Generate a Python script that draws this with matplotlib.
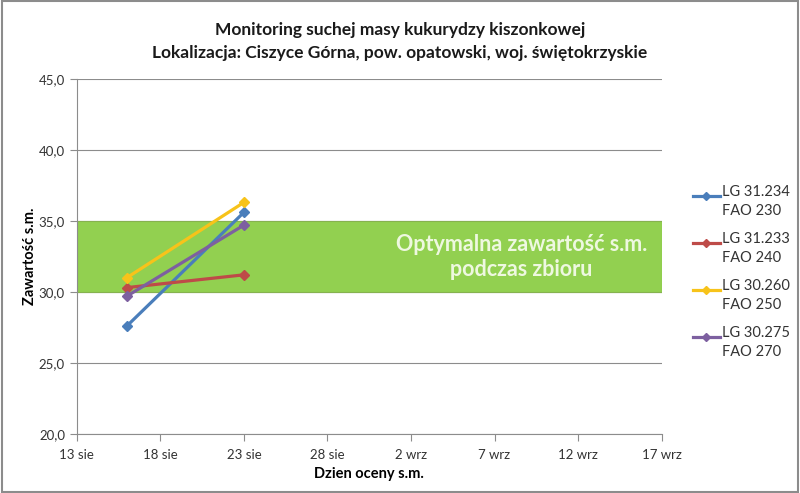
import datetime as dt
import matplotlib
matplotlib.use('Agg')
import matplotlib.pyplot as plt
import matplotlib.dates as mdates
from matplotlib.lines import Line2D
from matplotlib.patches import Rectangle

plt.rcParams['font.family'] = ['Lato', 'DejaVu Sans']

# dates of measurement and dry matter content (%)
dates = [dt.date(2014, 8, 16), dt.date(2014, 8, 23)]
lg31234 = [27.6, 35.6]
lg31233 = [30.3, 31.2]
lg30260 = [31.0, 36.3]
lg30275 = [29.7, 34.7]

series_labels = ['LG 31.234\nFAO 230', 'LG 31.233\nFAO 240', 'LG 30.260\nFAO 250', 'LG 30.275\nFAO 270']
colors = ['#4A7EBB', '#BE4B48', '#F7C31A', '#7D60A0']

x_ticks = [dt.date(2014, 8, 13), dt.date(2014, 8, 18), dt.date(2014, 8, 23), dt.date(2014, 8, 28),
           dt.date(2014, 9, 2), dt.date(2014, 9, 7), dt.date(2014, 9, 12), dt.date(2014, 9, 17)]
x_tick_labels = ['13 sie', '18 sie', '23 sie', '28 sie', '2 wrz', '7 wrz', '12 wrz', '17 wrz']
y_ticks = [20, 25, 30, 35, 40, 45]
y_tick_labels = ['20,0', '25,0', '30,0', '35,0', '40,0', '45,0']
optimum = (30, 35)

fig = plt.figure(figsize=(8, 4.93), dpi=100)
ax = fig.add_axes([0.096, 0.12, 0.731, 0.72])

ax.axhspan(optimum[0], optimum[1], facecolor='#92D050', edgecolor='#86B24F', lw=0.8, zorder=1)
ax.text(mdates.date2num(dt.date(2014, 9, 8)) + 0.6, 32.45, 'Optymalna zawartość s.m.\npodczas zbioru',
        color='#EEF8E0', fontsize=15.5, fontweight='bold', ha='center', va='center',
        linespacing=1.2, zorder=2)

for vals, lab, c in zip([lg31234, lg31233, lg30260, lg30275], series_labels, colors):
    ax.plot(dates, vals, color=c, lw=2.3, marker='D', ms=5, label=lab, zorder=3)

ax.set_xlim(mdates.date2num(x_ticks[0]), mdates.date2num(x_ticks[-1]))
ax.set_ylim(20, 45)
ax.set_xticks([mdates.date2num(d) for d in x_ticks])
ax.set_xticklabels(x_tick_labels)
ax.set_yticks(y_ticks)
ax.set_yticklabels(y_tick_labels)
ax.grid(axis='y', color='#8C8C8C', lw=0.8, zorder=0)
ax.set_axisbelow(True)
for s in ['top', 'right']:
    ax.spines[s].set_visible(False)
for s in ['left', 'bottom']:
    ax.spines[s].set_color('#8C8C8C')
ax.tick_params(direction='out', length=5, color='#8C8C8C', labelsize=9.5, labelcolor='#333333')
ax.tick_params(axis='x', pad=6)

ax.set_xlabel('Dzien oceny s.m.', fontsize=10.5, fontweight='bold', labelpad=4)
ax.set_ylabel('Zawartość s.m.', fontsize=10.5, fontweight='bold')
ax.yaxis.set_label_coords(-0.068, 0.5)

fig.text(0.5, 0.916, 'Monitoring suchej masy kukurydzy kiszonkowej\nLokalizacja: Ciszyce Górna, pow. opatowski, woj. świętokrzyskie',
         ha='center', va='center', fontsize=12.5, fontweight='bold', linespacing=1.5, color='#1A1A1A')

# legend drawn by hand: marker line next to the first text line, as in Excel
for i, (lab, c) in enumerate(zip(series_labels, colors)):
    y0 = 1 - (196 + 47 * i) / 493
    fig.add_artist(Line2D([0.866, 0.9], [y0, y0], color=c, lw=2.3, transform=fig.transFigure))
    fig.add_artist(Line2D([0.883], [y0], color=c, marker='D', ms=4.5, transform=fig.transFigure))
    fig.text(0.903, y0 + 0.022, lab, ha='left', va='top', fontsize=10.5, linespacing=1.45,
             color='#333333')

fig.patches.append(Rectangle((0.002, 0.002), 0.996, 0.996, transform=fig.transFigure,
                             fill=False, edgecolor='#8C8C8C', lw=1.5))

fig.savefig('out.png', dpi=100)
